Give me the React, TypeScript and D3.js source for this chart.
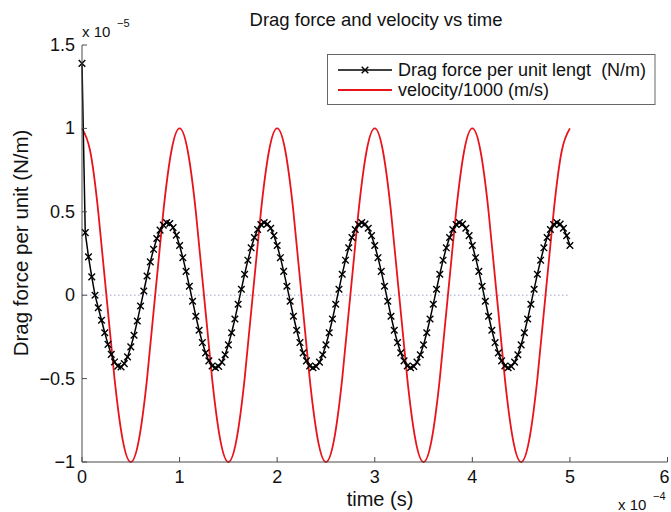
import React from 'react';
import * as d3 from 'd3';

// time is in units of 1e-4 s, values in units of 1e-5
const dragStep = 1 / 30;
const dragForce = [
  1.39, 0.375, 0.23, 0.11, 0.0, -0.075, -0.15, -0.225, -0.295, -0.355,
  -0.4, -0.425, -0.43, -0.41, -0.37, -0.31, -0.24, -0.155, -0.065, 0.025,
  0.115, 0.2, 0.275, 0.34, 0.39, 0.42, 0.435, 0.43, 0.405, 0.36,
  0.298, 0.225, 0.143, 0.054, -0.036, -0.126, -0.21, -0.284, -0.346, -0.394,
  -0.424, -0.435, -0.427, -0.401, -0.357, -0.298, -0.225, -0.143, -0.054, 0.036,
  0.126, 0.21, 0.284, 0.346, 0.394, 0.424, 0.435, 0.427, 0.401, 0.357,
  0.298, 0.225, 0.143, 0.054, -0.036, -0.126, -0.21, -0.284, -0.346, -0.394,
  -0.424, -0.435, -0.427, -0.401, -0.357, -0.298, -0.225, -0.143, -0.054, 0.036,
  0.126, 0.21, 0.284, 0.346, 0.394, 0.424, 0.435, 0.427, 0.401, 0.357,
  0.298, 0.225, 0.143, 0.054, -0.036, -0.126, -0.21, -0.284, -0.346, -0.394,
  -0.424, -0.435, -0.427, -0.401, -0.357, -0.298, -0.225, -0.143, -0.054, 0.036,
  0.126, 0.21, 0.284, 0.346, 0.394, 0.424, 0.435, 0.427, 0.401, 0.357,
  0.298, 0.225, 0.143, 0.054, -0.036, -0.126, -0.21, -0.284, -0.346, -0.394,
  -0.424, -0.435, -0.427, -0.401, -0.357, -0.298, -0.225, -0.143, -0.054, 0.036,
  0.126, 0.21, 0.284, 0.346, 0.394, 0.424, 0.435, 0.427, 0.401, 0.357,
  0.298,
];

const velStep = 1 / 12;
const velocity = [
  1, 0.866, 0.5, 0, -0.5, -0.866, -1, -0.866, -0.5, 0, 0.5, 0.866,
  1, 0.866, 0.5, 0, -0.5, -0.866, -1, -0.866, -0.5, 0, 0.5, 0.866,
  1, 0.866, 0.5, 0, -0.5, -0.866, -1, -0.866, -0.5, 0, 0.5, 0.866,
  1, 0.866, 0.5, 0, -0.5, -0.866, -1, -0.866, -0.5, 0, 0.5, 0.866,
  1, 0.866, 0.5, 0, -0.5, -0.866, -1, -0.866, -0.5, 0, 0.5, 0.866,
  1,
];

const xTicks = [0, 1, 2, 3, 4, 5, 6];
const yTicks = [-1, -0.5, 0, 0.5, 1, 1.5];
const yTickLabels = ['\u22121', '\u22120.5', '0', '0.5', '1', '1.5'];

const font = '"Liberation Sans", Arial, Helvetica, sans-serif';
const axisColor = '#4a4a4a';
const red = '#e8141c';

const App = () => {
  const x = d3.scaleLinear().domain([0, 6]).range([82, 667.5]);
  const y = d3.scaleLinear().domain([-1, 1.5]).range([462, 45]);

  const dragPts = dragForce.map((v, i) => [x(i * dragStep), y(v)] as [number, number]);
  const velPts = velocity.map((v, i) => [x(i * velStep), y(v)] as [number, number]);

  const straight = d3.line();
  const smooth = d3.line().curve(d3.curveNatural);

  const cross = 'M-3.3,-3.3L3.3,3.3M-3.3,3.3L3.3,-3.3';

  return (
    <svg
      width={671}
      height={512}
      style={{ position: 'absolute', left: 0, top: 0, background: '#fff', fontFamily: font }}
    >
      {/* zero line */}
      <line
        x1={x(0)}
        x2={x(5)}
        y1={y(0)}
        y2={y(0)}
        stroke="#9aa3cc"
        strokeWidth={1}
        strokeDasharray="1.5,2.5"
      />

      {/* velocity */}
      <path d={smooth(velPts) || ''} fill="none" stroke={red} strokeWidth={1.8} />

      {/* drag force */}
      <path d={straight(dragPts) || ''} fill="none" stroke="#000" strokeWidth={1.5} />
      {dragPts.map((p, i) => (
        <path
          key={i}
          d={cross}
          transform={`translate(${p[0]},${p[1]})`}
          stroke="#000"
          strokeWidth={1.4}
          fill="none"
        />
      ))}

      {/* axes */}
      <line x1={x(0)} x2={x(6)} y1={y(-1)} y2={y(-1)} stroke={axisColor} strokeWidth={1} />
      <line x1={x(0)} x2={x(0)} y1={y(-1)} y2={y(1.5)} stroke={axisColor} strokeWidth={1} />
      {xTicks.map(t => (
        <g key={t}>
          <line x1={x(t)} x2={x(t)} y1={y(-1)} y2={y(-1) - 5} stroke={axisColor} />
          <text x={t === 6 ? x(t) - 3 : x(t)} y={483} textAnchor="middle" fontSize={18} fill="#111">
            {t}
          </text>
        </g>
      ))}
      {yTicks.map((t, i) => (
        <g key={t}>
          <line x1={x(0)} x2={x(0) + 5} y1={y(t)} y2={y(t)} stroke={axisColor} />
          <text x={75} y={y(t) + 6} textAnchor="end" fontSize={18} fill="#111">
            {yTickLabels[i]}
          </text>
        </g>
      ))}

      {/* exponents */}
      <text x={82} y={37} fontSize={15} fill="#111">
        x 10
      </text>
      <text x={117} y={27} fontSize={11} fill="#111">
        {'\u22125'}
      </text>
      <text x={618} y={510} fontSize={15} fill="#111">
        x 10
      </text>
      <text x={653} y={500} fontSize={11} fill="#111">
        {'\u22124'}
      </text>

      {/* titles */}
      <text x={376} y={26} textAnchor="middle" fontSize={18.5} fill="#111">
        Drag force and velocity vs time
      </text>
      <text x={380} y={506} textAnchor="middle" fontSize={20} fill="#111">
        time (s)
      </text>
      <text
        transform="translate(28,243) rotate(-90)"
        textAnchor="middle"
        fontSize={20.5}
        fill="#111"
      >
        Drag force per unit (N/m)
      </text>

      {/* legend */}
      <rect x={327.5} y={54.5} width={327.5} height={50} fill="#fff" stroke="#666" strokeWidth={1} />
      <line x1={338} x2={392} y1={70} y2={70} stroke="#000" strokeWidth={1.5} />
      <path d={cross} transform="translate(365,70)" stroke="#000" strokeWidth={1.4} fill="none" />
      <text x={398} y={76} fontSize={18} fill="#111">
        Drag force per unit lengt{'\u00a0\u00a0'}(N/m)
      </text>
      <line x1={338} x2={392} y1={90} y2={90} stroke={red} strokeWidth={1.8} />
      <text x={398} y={96} fontSize={18} fill="#111">
        velocity/1000 (m/s)
      </text>
    </svg>
  );
};

export default App;
